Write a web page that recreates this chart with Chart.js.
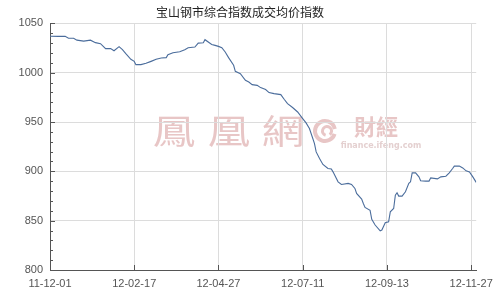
<!DOCTYPE html>
<html><head><meta charset="utf-8">
<script src="https://cdn.jsdelivr.net/npm/chart.js@4"></script>
<style>html,body{margin:0;padding:0;background:#fff}</style>
</head><body>
<canvas id="c" width="500" height="300"></canvas>
<script>
const chartTitle = '宝山钢市综合指数成交均价指数';
const tickIndex = [0, 50, 100, 150, 200, 250];
const tickLabels = ['11-12-01', '12-02-17', '12-04-27', '12-07-11', '12-09-13', '12-11-27'];
const dayIndex = [0,5,9,11,14,16,20,24,27,30,33,36,38,41,43,45,48,50,51,54,57,60,63,66,69,70,73,77,80,82,86,88,91,92,96,98,100,102,104,106,109,110,113,116,118,120,123,125,128,130,133,137,139,141,144,147,150,152,154,156,157,158,160,162,165,167,168,171,173,177,179,181,182,185,186,187,190,191,193,196,197,199,201,202,204,205,206,207,209,211,213,214,215,217,219,220,223,225,226,230,232,235,237,239,240,243,245,247,249,251,253];
const priceIndex = [1037,1036.8,1037,1035,1035,1033,1032,1033,1030.5,1029.4,1024.4,1024.4,1022.3,1026.4,1023.4,1019.3,1013.6,1011.5,1008.2,1008.2,1009.5,1011.5,1013.6,1014.9,1015.3,1018.3,1020.3,1021.3,1023.4,1025.4,1026,1030,1030.4,1033.5,1028.7,1027.7,1026.7,1025.4,1021,1015.3,1007.5,1001.4,999,992.3,990.6,987.9,987.2,984.9,982.9,979.9,978.8,977.8,973.1,968.7,964.7,960.2,953.5,949.1,943.4,933.3,928.2,919.7,913,907,902.9,902.5,899.5,889.4,886.7,887.8,886.7,882.7,877.6,871.9,867.5,863.5,860.5,851.3,845.6,839.8,840.5,847.9,848.9,859,862.4,875.9,878.3,874.9,874.9,879.3,887.8,889.4,898.5,898.5,894.4,890.4,890.1,890.1,893.4,892.4,894.4,895.1,898.5,902.9,905.3,905.3,903.5,900.5,899.5,894.4,888.8];
const yMin = 800, yMax = 1050, yStep = 50, yMinorStep = 10;

const points = dayIndex.map((d, i) => ({x: d, y: priceIndex[i]}));

const watermark = {
  id: 'watermark',
  beforeDraw(chart) {
    const ctx = chart.ctx;
    ctx.save();
    ctx.fillStyle = '#e8c6c6';
    ctx.textAlign = 'center';
    ctx.textBaseline = 'middle';
    ctx.font = '400 38px "Noto Sans CJK TC"';
    const chars = ['鳳', '凰', '網'];
    const cx = [174, 229, 283];
    chars.forEach((c, i) => {
      ctx.save();
      ctx.translate(cx[i], 131);
      ctx.scale(1.12, 0.9);
      ctx.fillText(c, 0, 0);
      ctx.restore();
    });
    ctx.strokeStyle = '#e8c6c6';
    ctx.lineWidth = 4;
    ctx.beginPath(); ctx.arc(325, 131, 10, 0.3, Math.PI * 2 - 0.2); ctx.stroke();
    ctx.lineWidth = 3;
    ctx.beginPath(); ctx.arc(327, 131, 4.5, Math.PI * 0.6, Math.PI * 2.3); ctx.stroke();
    ctx.font = 'bold 22px "Noto Sans CJK TC"';
    ctx.fillText('財經', 376, 127);
    ctx.fillStyle = '#e4d0d0';
    ctx.font = 'bold 8px "DejaVu Sans"';
    ctx.fillText('finance.ifeng.com', 381, 146);
    ctx.restore();
  }
};

const innerTicks = {
  id: 'innerTicks',
  afterDraw(chart) {
    const x = chart.scales.x, y = chart.scales.y, ctx = chart.ctx;
    ctx.save();
    ctx.strokeStyle = '#555';
    ctx.lineWidth = 1;
    ctx.beginPath();
    for (let v = yMin; v <= yMax; v += yMinorStep) {
      const py = Math.round(y.getPixelForValue(v)) + 0.5;
      const len = (v % yStep === 0) ? 5 : 3;
      ctx.moveTo(x.left, py); ctx.lineTo(x.left + len, py);
    }
    tickIndex.forEach(t => {
      const px = Math.round(x.getPixelForValue(t)) + 0.5;
      ctx.moveTo(px, y.bottom); ctx.lineTo(px, y.bottom - 5);
    });
    ctx.stroke();
    ctx.restore();
  }
};

new Chart(document.getElementById('c'), {
  type: 'line',
  data: {
    datasets: [{
      data: points,
      borderColor: '#4b6d9c',
      borderWidth: 1.1,
      pointRadius: 0,
      fill: false,
      tension: 0
    }]
  },
  options: {
    responsive: false,
    devicePixelRatio: 1,
    animation: false,
    layout: {padding: {left: 0, right: 20, top: 0, bottom: 0}},
    plugins: {
      legend: {display: false},
      tooltip: {enabled: false},
      title: {
        display: true,
        text: chartTitle,
        color: '#222',
        font: {family: '"Noto Sans CJK SC"', size: 12, weight: 'normal'},
        padding: {top: 5, bottom: 4}
      }
    },
    scales: {
      x: {
        type: 'linear',
        min: dayIndex[0],
        max: dayIndex[dayIndex.length - 1],
        afterBuildTicks: s => { s.ticks = tickIndex.map(v => ({value: v})); },
        afterFit: s => { s.height = 30; },
        ticks: {
          callback: v => tickLabels[tickIndex.indexOf(v)],
          color: '#555',
          font: {family: '"Liberation Sans", Arial', size: 11},
          padding: 7,
          maxRotation: 0,
          autoSkip: false
        },
        grid: {color: '#dcdcdc', lineWidth: 1, drawTicks: false},
        border: {color: '#555', width: 1}
      },
      y: {
        min: yMin,
        max: yMax,
        afterFit: s => { s.width = 50; },
        ticks: {
          stepSize: yStep,
          callback: v => String(v),
          color: '#555',
          font: {family: '"Liberation Sans", Arial', size: 11},
          padding: 7
        },
        grid: {color: '#dcdcdc', lineWidth: 1, drawTicks: false},
        border: {color: '#555', width: 1}
      }
    }
  },
  plugins: [watermark, innerTicks]
});
</script>
</body></html>
